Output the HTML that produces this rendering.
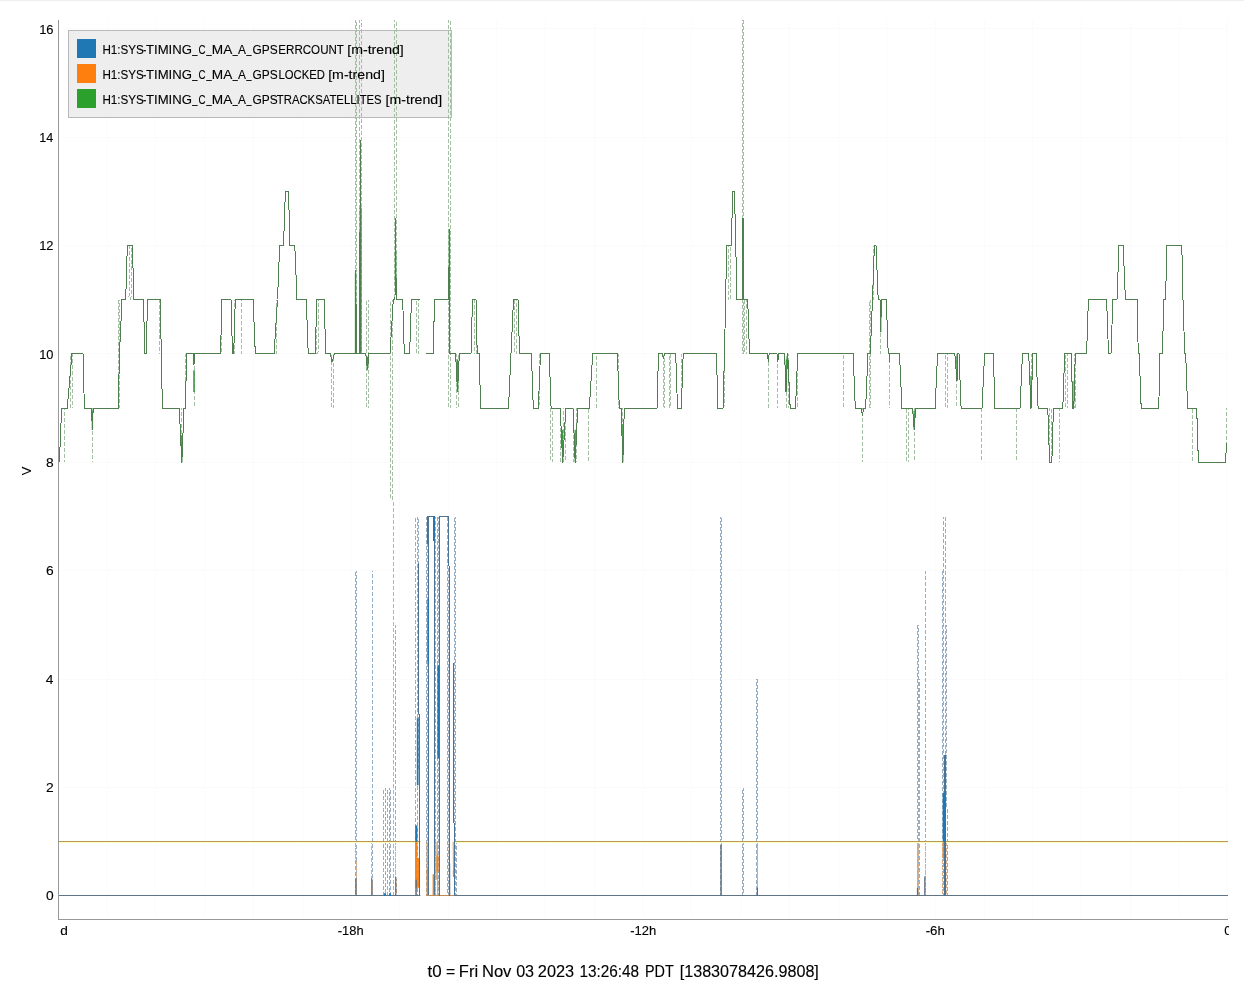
<!DOCTYPE html>
<html lang="en">
<head>
<meta charset="utf-8">
<title>ndscope</title>
<style>
html,body{margin:0;padding:0;background:#fff;}
body{width:1244px;height:990px;overflow:hidden;font-family:"Liberation Sans",sans-serif;}
svg{display:block;position:absolute;left:0;top:0;}
text{font-family:"Liberation Sans",sans-serif;fill:#000;stroke:#000;stroke-width:0.12px;}
.tick{font-size:13px;}
.leg{font-size:13px;}
.title{font-size:16px;}
.gm{fill:none;stroke:#4f7f4f;stroke-width:1;stroke-linejoin:miter;shape-rendering:crispEdges;}
.gd{shape-rendering:crispEdges;fill:none;stroke:#a4bfa4;stroke-width:1;stroke-dasharray:4 2;}
.bd{shape-rendering:crispEdges;fill:none;stroke:#97adc4;stroke-width:1;stroke-dasharray:4 2;}
.bs{fill:none;stroke:#4a7396;stroke-width:1;shape-rendering:crispEdges;}
.bt{fill:none;stroke:#1f77b4;}
.dk{fill:none;stroke:#5b6b78;stroke-width:1.2;}
.od{shape-rendering:crispEdges;fill:none;stroke:#dcae85;stroke-width:1;stroke-dasharray:4 2;}
.ot{fill:none;stroke:#f5821a;}
.os{fill:none;stroke:#cf9a58;stroke-width:1;}
.grid line{stroke:#fbfbfb;stroke-width:1;}
.ax{stroke:#999;stroke-width:1;fill:none;shape-rendering:crispEdges;}
</style>
</head>
<body>
<svg width="1244" height="990" viewBox="0 0 1244 990">
<defs>
<clipPath id="plot"><rect x="59" y="20" width="1169" height="899"/></clipPath>
<clipPath id="xl"><rect x="0" y="919" width="1229" height="40"/></clipPath>
</defs>
<rect x="0" y="0" width="1244" height="990" fill="#ffffff"/>
<rect x="0" y="0" width="1244" height="1" fill="#efeded"/>

<g class="grid" clip-path="url(#plot)">
<line x1="59" y1="895.5" x2="1228" y2="895.5"/>
<line x1="59" y1="787.5" x2="1228" y2="787.5"/>
<line x1="59" y1="679.5" x2="1228" y2="679.5"/>
<line x1="59" y1="570.5" x2="1228" y2="570.5"/>
<line x1="59" y1="462.5" x2="1228" y2="462.5"/>
<line x1="59" y1="353.5" x2="1228" y2="353.5"/>
<line x1="59" y1="245.5" x2="1228" y2="245.5"/>
<line x1="59" y1="137.5" x2="1228" y2="137.5"/>
<line x1="59" y1="28.5" x2="1228" y2="28.5"/>
<line x1="58.5" y1="20" x2="58.5" y2="919"/>
<line x1="107.5" y1="20" x2="107.5" y2="919"/>
<line x1="155.5" y1="20" x2="155.5" y2="919"/>
<line x1="204.5" y1="20" x2="204.5" y2="919"/>
<line x1="253.5" y1="20" x2="253.5" y2="919"/>
<line x1="302.5" y1="20" x2="302.5" y2="919"/>
<line x1="350.5" y1="20" x2="350.5" y2="919"/>
<line x1="399.5" y1="20" x2="399.5" y2="919"/>
<line x1="448.5" y1="20" x2="448.5" y2="919"/>
<line x1="496.5" y1="20" x2="496.5" y2="919"/>
<line x1="545.5" y1="20" x2="545.5" y2="919"/>
<line x1="594.5" y1="20" x2="594.5" y2="919"/>
<line x1="643.5" y1="20" x2="643.5" y2="919"/>
<line x1="691.5" y1="20" x2="691.5" y2="919"/>
<line x1="740.5" y1="20" x2="740.5" y2="919"/>
<line x1="789.5" y1="20" x2="789.5" y2="919"/>
<line x1="838.5" y1="20" x2="838.5" y2="919"/>
<line x1="886.5" y1="20" x2="886.5" y2="919"/>
<line x1="935.5" y1="20" x2="935.5" y2="919"/>
<line x1="984.5" y1="20" x2="984.5" y2="919"/>
<line x1="1032.5" y1="20" x2="1032.5" y2="919"/>
<line x1="1081.5" y1="20" x2="1081.5" y2="919"/>
<line x1="1130.5" y1="20" x2="1130.5" y2="919"/>
<line x1="1179.5" y1="20" x2="1179.5" y2="919"/>
<line x1="1227.5" y1="20" x2="1227.5" y2="919"/>
</g>
<rect x="68.5" y="30.5" width="383" height="87" fill="#eeeeee" stroke="#b9b9b9" stroke-width="1"/>
<rect x="77" y="39" width="19" height="19" fill="#1f77b4"/>
<rect x="77" y="64" width="19" height="19" fill="#ff7f0e"/>
<rect x="77" y="89" width="19" height="19" fill="#2ca02c"/>
<g clip-path="url(#plot)">
<line class="gd" stroke-dashoffset="1.6" x1="64.5" y1="462.35" x2="64.8" y2="408.15"/>
<line class="gd" stroke-dashoffset="5.8" x1="70.5" y1="408.15" x2="70.8" y2="353.95"/>
<line class="gd" stroke-dashoffset="3.2" x1="72.5" y1="408.15" x2="72.8" y2="353.95"/>
<line class="gd" stroke-dashoffset="0.9" x1="92.3" y1="408.15" x2="92.6" y2="462.35"/>
<line class="gd" stroke-dashoffset="4.3" x1="118.5" y1="408.15" x2="118.5" y2="299.75"/>
<line class="gd" stroke-dashoffset="1.3" x1="119.5" y1="408.15" x2="119.5" y2="299.75"/>
<line class="gd" stroke-dashoffset="3.3" x1="129" y1="299.75" x2="129.3" y2="245.55"/>
<line class="gd" stroke-dashoffset="0.7" x1="131" y1="299.75" x2="131.3" y2="245.55"/>
<line class="gd" stroke-dashoffset="1.1" x1="159.5" y1="299.75" x2="159.8" y2="353.95"/>
<line class="gd" stroke-dashoffset="2.6" x1="181.5" y1="408.15" x2="181.8" y2="462.35"/>
<line class="gd" stroke-dashoffset="2.8" x1="185.2" y1="408.15" x2="185.5" y2="353.95"/>
<line class="gd" stroke-dashoffset="5.8" x1="194" y1="353.95" x2="194.3" y2="408.15"/>
<line class="gd" stroke-dashoffset="4.0" x1="221.2" y1="353.95" x2="221.5" y2="299.75"/>
<line class="gd" stroke-dashoffset="3.0" x1="234.7" y1="299.75" x2="235.0" y2="353.95"/>
<line class="gd" stroke-dashoffset="2.6" x1="241.5" y1="299.75" x2="241.8" y2="353.95"/>
<line class="gd" stroke-dashoffset="1.2" x1="276" y1="353.95" x2="276.3" y2="299.75"/>
<line class="gd" stroke-dashoffset="3.2" x1="316" y1="353.95" x2="316.3" y2="299.75"/>
<line class="gd" stroke-dashoffset="0.6" x1="318" y1="353.95" x2="318.3" y2="299.75"/>
<line class="gd" stroke-dashoffset="4.7" x1="331" y1="353.95" x2="331.3" y2="408.15"/>
<line class="gd" stroke-dashoffset="2.9" x1="333.5" y1="353.95" x2="333.8" y2="408.15"/>
<line class="gd" stroke-dashoffset="4.9" x1="355.3" y1="353.95" x2="355.3" y2="7.07"/>
<line class="gd" stroke-dashoffset="1.9" x1="356.3" y1="353.95" x2="356.3" y2="7.07"/>
<line class="gd" stroke-dashoffset="5.0" x1="359.4" y1="353.95" x2="359.7" y2="7.07"/>
<line class="gd" stroke-dashoffset="2.7" x1="361.6" y1="353.95" x2="361.90000000000003" y2="7.07"/>
<line class="gd" stroke-dashoffset="5.0" x1="366.5" y1="299.75" x2="366.8" y2="408.15"/>
<line class="gd" stroke-dashoffset="1.6" x1="368" y1="299.75" x2="368.3" y2="408.15"/>
<line class="gd" stroke-dashoffset="3.7" x1="390.4" y1="299.75" x2="390.7" y2="500.29"/>
<line class="gd" stroke-dashoffset="1.9" x1="392.9" y1="299.75" x2="393.2" y2="895.95"/>
<line class="gd" stroke-dashoffset="4.3" x1="394.3" y1="299.75" x2="394.6" y2="7.07"/>
<line class="gd" stroke-dashoffset="1.9" x1="396.4" y1="299.75" x2="396.7" y2="7.07"/>
<line class="gd" stroke-dashoffset="5.2" x1="416" y1="299.75" x2="416.3" y2="353.95"/>
<line class="gd" stroke-dashoffset="2.6" x1="418" y1="299.75" x2="418.3" y2="353.95"/>
<line class="gd" stroke-dashoffset="0.4" x1="448.5" y1="7.07" x2="448.8" y2="408.15"/>
<line class="gd" stroke-dashoffset="3.9" x1="450.5" y1="7.07" x2="450.8" y2="408.15"/>
<line class="gd" stroke-dashoffset="1.2" x1="456" y1="353.95" x2="456.3" y2="408.15"/>
<line class="gd" stroke-dashoffset="5.4" x1="458.5" y1="353.95" x2="458.8" y2="408.15"/>
<line class="gd" stroke-dashoffset="2.6" x1="474.5" y1="353.95" x2="474.8" y2="299.75"/>
<line class="gd" stroke-dashoffset="0.0" x1="476.5" y1="353.95" x2="476.8" y2="299.75"/>
<line class="gd" stroke-dashoffset="4.1" x1="514.2" y1="353.95" x2="514.5" y2="299.75"/>
<line class="gd" stroke-dashoffset="1.2" x1="516" y1="353.95" x2="516.3" y2="299.75"/>
<line class="gd" stroke-dashoffset="4.3" x1="539" y1="408.15" x2="539.3" y2="353.95"/>
<line class="gd" stroke-dashoffset="5.9" x1="550.5" y1="408.15" x2="550.8" y2="462.35"/>
<line class="gd" stroke-dashoffset="3.2" x1="552.5" y1="408.15" x2="552.8" y2="462.35"/>
<line class="gd" stroke-dashoffset="4.0" x1="560" y1="408.15" x2="560.3" y2="462.35"/>
<line class="gd" stroke-dashoffset="3.1" x1="563" y1="408.15" x2="563.3" y2="462.35"/>
<line class="gd" stroke-dashoffset="0.5" x1="565" y1="408.15" x2="565.3" y2="462.35"/>
<line class="gd" stroke-dashoffset="2.9" x1="573.5" y1="408.15" x2="573.8" y2="462.35"/>
<line class="gd" stroke-dashoffset="1.2" x1="576" y1="408.15" x2="576.3" y2="462.35"/>
<line class="gd" stroke-dashoffset="4.8" x1="588.7" y1="408.15" x2="589.0" y2="462.35"/>
<line class="gd" stroke-dashoffset="0.0" x1="596.5" y1="408.15" x2="596.8" y2="353.95"/>
<line class="gd" stroke-dashoffset="0.6" x1="618" y1="353.95" x2="618.3" y2="408.15"/>
<line class="gd" stroke-dashoffset="2.2" x1="622.5" y1="408.15" x2="622.8" y2="462.35"/>
<line class="gd" stroke-dashoffset="5.1" x1="663" y1="353.95" x2="663.3" y2="408.15"/>
<line class="gd" stroke-dashoffset="1.6" x1="664.5" y1="353.95" x2="664.8" y2="408.15"/>
<line class="gd" stroke-dashoffset="4.1" x1="669.5" y1="353.95" x2="669.8" y2="408.15"/>
<line class="gd" stroke-dashoffset="5.8" x1="670.5" y1="353.95" x2="670.8" y2="408.15"/>
<line class="gd" stroke-dashoffset="0.5" x1="681.5" y1="353.95" x2="681.8" y2="408.15"/>
<line class="gd" stroke-dashoffset="0.8" x1="724" y1="408.15" x2="724.3" y2="353.95"/>
<line class="gd" stroke-dashoffset="2.5" x1="728.5" y1="245.55" x2="728.8" y2="299.75"/>
<line class="gd" stroke-dashoffset="5.0" x1="730" y1="245.55" x2="730.3" y2="299.75"/>
<line class="gd" stroke-dashoffset="3.1" x1="742.5" y1="353.95" x2="742.5" y2="7.07"/>
<line class="gd" stroke-dashoffset="0.1" x1="743.5" y1="353.95" x2="743.5" y2="7.07"/>
<line class="gd" stroke-dashoffset="5.6" x1="744.5" y1="299.75" x2="744.8" y2="353.95"/>
<line class="gd" stroke-dashoffset="2.2" x1="746" y1="299.75" x2="746.3" y2="353.95"/>
<line class="gd" stroke-dashoffset="4.1" x1="768.3" y1="353.95" x2="768.5999999999999" y2="408.15"/>
<line class="gd" stroke-dashoffset="2.1" x1="777.7" y1="353.95" x2="778.0" y2="408.15"/>
<line class="gd" stroke-dashoffset="4.2" x1="786" y1="353.95" x2="786.3" y2="408.15"/>
<line class="gd" stroke-dashoffset="1.6" x1="788" y1="353.95" x2="788.3" y2="408.15"/>
<line class="gd" stroke-dashoffset="4.9" x1="797" y1="353.95" x2="797.3" y2="408.15"/>
<line class="gd" stroke-dashoffset="5.1" x1="843" y1="353.95" x2="843.3" y2="408.15"/>
<line class="gd" stroke-dashoffset="2.2" x1="862.5" y1="408.15" x2="862.8" y2="462.35"/>
<line class="gd" stroke-dashoffset="3.3" x1="869.7" y1="299.75" x2="869.7" y2="408.15"/>
<line class="gd" stroke-dashoffset="0.3" x1="870.7" y1="299.75" x2="870.7" y2="408.15"/>
<line class="gd" stroke-dashoffset="2.1" x1="873" y1="245.55" x2="873.3" y2="299.75"/>
<line class="gd" stroke-dashoffset="3.2" x1="880.7" y1="299.75" x2="881.0" y2="353.95"/>
<line class="gd" stroke-dashoffset="0.5" x1="889.7" y1="353.95" x2="890.0" y2="408.15"/>
<line class="gd" stroke-dashoffset="5.0" x1="906.5" y1="408.15" x2="906.8" y2="462.35"/>
<line class="gd" stroke-dashoffset="2.5" x1="908.5" y1="408.15" x2="908.8" y2="462.35"/>
<line class="gd" stroke-dashoffset="5.8" x1="914" y1="408.15" x2="914.3" y2="462.35"/>
<line class="gd" stroke-dashoffset="5.3" x1="945.5" y1="353.95" x2="945.8" y2="408.15"/>
<line class="gd" stroke-dashoffset="2.8" x1="947.5" y1="353.95" x2="947.8" y2="408.15"/>
<line class="gd" stroke-dashoffset="5.9" x1="956.4" y1="353.95" x2="956.6999999999999" y2="408.15"/>
<line class="gd" stroke-dashoffset="0.5" x1="981.5" y1="408.15" x2="981.8" y2="462.35"/>
<line class="gd" stroke-dashoffset="0.0" x1="1016.5" y1="408.15" x2="1016.8" y2="462.35"/>
<line class="gd" stroke-dashoffset="0.7" x1="1031" y1="353.95" x2="1031.3" y2="408.15"/>
<line class="gd" stroke-dashoffset="1.3" x1="1049" y1="408.15" x2="1049.3" y2="462.35"/>
<line class="gd" stroke-dashoffset="5.5" x1="1051.5" y1="408.15" x2="1051.8" y2="462.35"/>
<line class="gd" stroke-dashoffset="1.3" x1="1059.6" y1="408.15" x2="1059.8999999999999" y2="462.35"/>
<line class="gd" stroke-dashoffset="5.3" x1="1065.5" y1="353.95" x2="1065.8" y2="408.15"/>
<line class="gd" stroke-dashoffset="1.9" x1="1067" y1="353.95" x2="1067.3" y2="408.15"/>
<line class="gd" stroke-dashoffset="1.8" x1="1074" y1="353.95" x2="1074.3" y2="408.15"/>
<line class="gd" stroke-dashoffset="4.3" x1="1075.5" y1="353.95" x2="1075.8" y2="408.15"/>
<line class="gd" stroke-dashoffset="5.6" x1="1192.7" y1="408.15" x2="1193.0" y2="462.35"/>
<line class="gd" stroke-dashoffset="2.2" x1="1226" y1="408.15" x2="1226.3" y2="446.09"/>
<line class="bd" stroke-dashoffset="4.7" x1="355.2" y1="570.75" x2="355.2" y2="895.95"/>
<line class="bd" stroke-dashoffset="1.7" x1="356.2" y1="570.75" x2="356.2" y2="895.95"/>
<line class="bd" stroke-dashoffset="2.7" x1="372.2" y1="570.75" x2="372.5" y2="895.95"/>
<line class="bd" stroke-dashoffset="3.9" x1="383.5" y1="787.55" x2="383.8" y2="895.95"/>
<line class="bd" stroke-dashoffset="0.5" x1="385" y1="787.55" x2="385.3" y2="895.95"/>
<line class="bd" stroke-dashoffset="3.9" x1="387" y1="787.55" x2="387.3" y2="895.95"/>
<line class="bd" stroke-dashoffset="1.3" x1="389" y1="787.55" x2="389.3" y2="895.95"/>
<line class="bd" stroke-dashoffset="3.9" x1="390.5" y1="787.55" x2="390.8" y2="895.95"/>
<line class="bd" stroke-dashoffset="0.5" x1="395.6" y1="624.95" x2="395.90000000000003" y2="895.95"/>
<line class="bd" stroke-dashoffset="4.4" x1="415.5" y1="516.55" x2="415.8" y2="895.95"/>
<line class="bd" stroke-dashoffset="0.9" x1="417" y1="516.55" x2="417.3" y2="895.95"/>
<line class="bd" stroke-dashoffset="4.0" x1="418.8" y1="516.55" x2="419.1" y2="895.95"/>
<line class="bd" stroke-dashoffset="0.2" x1="426.7" y1="516.55" x2="426.7" y2="895.95"/>
<line class="bd" stroke-dashoffset="3.2" x1="427.7" y1="516.55" x2="427.7" y2="895.95"/>
<line class="bd" stroke-dashoffset="2.0" x1="435.3" y1="516.55" x2="435.6" y2="895.95"/>
<line class="bd" stroke-dashoffset="5.8" x1="437.5" y1="516.55" x2="437.8" y2="895.95"/>
<line class="bd" stroke-dashoffset="1.6" x1="438.6" y1="516.55" x2="438.90000000000003" y2="895.95"/>
<line class="bd" stroke-dashoffset="5.3" x1="447.3" y1="516.55" x2="447.3" y2="895.95"/>
<line class="bd" stroke-dashoffset="2.3" x1="448.3" y1="516.55" x2="448.3" y2="895.95"/>
<line class="bd" stroke-dashoffset="4.6" x1="454.0" y1="516.55" x2="454.0" y2="895.95"/>
<line class="bd" stroke-dashoffset="1.6" x1="455.0" y1="516.55" x2="455.0" y2="895.95"/>
<line class="bd" stroke-dashoffset="2.2" x1="456.6" y1="841.75" x2="456.90000000000003" y2="895.95"/>
<line class="bd" stroke-dashoffset="1.7" x1="720.5" y1="516.55" x2="720.5" y2="895.95"/>
<line class="bd" stroke-dashoffset="4.7" x1="721.5" y1="516.55" x2="721.5" y2="895.95"/>
<line class="bd" stroke-dashoffset="3.4" x1="742.7" y1="787.55" x2="742.7" y2="895.95"/>
<line class="bd" stroke-dashoffset="0.4" x1="743.7" y1="787.55" x2="743.7" y2="895.95"/>
<line class="bd" stroke-dashoffset="3.6" x1="756.9" y1="679.15" x2="756.9" y2="895.95"/>
<line class="bd" stroke-dashoffset="0.6" x1="757.9" y1="679.15" x2="757.9" y2="895.95"/>
<line class="bd" stroke-dashoffset="5.8" x1="917.0" y1="624.95" x2="917.0" y2="895.95"/>
<line class="bd" stroke-dashoffset="2.8" x1="918.0" y1="624.95" x2="918.0" y2="895.95"/>
<line class="bd" stroke-dashoffset="3.1" x1="919.5" y1="679.15" x2="919.8" y2="895.95"/>
<line class="bd" stroke-dashoffset="0.8" x1="925.2" y1="570.75" x2="925.5" y2="895.95"/>
<line class="bd" stroke-dashoffset="0.1" x1="942.4" y1="570.75" x2="942.6999999999999" y2="895.95"/>
<line class="bd" stroke-dashoffset="1.8" x1="943.4" y1="516.55" x2="943.6999999999999" y2="895.95"/>
<line class="bd" stroke-dashoffset="5.5" x1="945.6" y1="516.55" x2="945.9" y2="895.95"/>
<line class="bd" stroke-dashoffset="1.6" x1="946.8" y1="624.95" x2="947.0999999999999" y2="895.95"/>
<line class="od" stroke-dashoffset="5.0" x1="355.9" y1="841.75" x2="356.2" y2="895.95"/>
<line class="od" stroke-dashoffset="2.1" x1="371.8" y1="841.75" x2="372.1" y2="895.95"/>
<line class="od" stroke-dashoffset="0.9" x1="395.8" y1="841.75" x2="396.1" y2="895.95"/>
<line class="od" stroke-dashoffset="3.5" x1="415" y1="841.75" x2="415.3" y2="895.95"/>
<line class="od" stroke-dashoffset="1.7" x1="721" y1="841.75" x2="721.3" y2="895.95"/>
<line class="od" stroke-dashoffset="3.6" x1="757.4" y1="841.75" x2="757.6999999999999" y2="895.95"/>
<line class="od" stroke-dashoffset="4.9" x1="917" y1="841.75" x2="917.3" y2="895.95"/>
<line class="od" stroke-dashoffset="1.5" x1="918.5" y1="841.75" x2="918.8" y2="895.95"/>
<line class="od" stroke-dashoffset="0.5" x1="925" y1="841.75" x2="925.3" y2="895.95"/>
<line class="od" stroke-dashoffset="0.2" x1="942.5" y1="841.75" x2="942.8" y2="895.95"/>
<line class="od" stroke-dashoffset="0.2" x1="946" y1="841.75" x2="946.3" y2="895.95"/>
<line class="od" stroke-dashoffset="4.9" x1="437" y1="841.75" x2="437.3" y2="895.95"/>
<line class="od" stroke-dashoffset="1.5" x1="435" y1="841.75" x2="435.3" y2="895.95"/>
<rect x="59" y="842.0" width="361.5" height="1" fill="#ffffc4"/>
<rect x="455" y="842.0" width="773" height="1" fill="#ffffc4"/>
<line x1="59" y1="841.5" x2="420.5" y2="841.5" stroke="#b79a4e" stroke-width="1"/>
<line x1="455" y1="841.5" x2="1228" y2="841.5" stroke="#b79a4e" stroke-width="1"/>
<line class="os" x1="427" y1="841.75" x2="427.3" y2="895.95"/>
<line class="os" x1="434.5" y1="841.75" x2="434.8" y2="895.95"/>
<line class="os" x1="439" y1="879.69" x2="439.3" y2="895.95"/>
<line class="os" x1="449.3" y1="841.75" x2="449.6" y2="895.95"/>
<line class="os" x1="453.2" y1="841.75" x2="453.5" y2="874.27"/>
<line class="os" x1="436" y1="841.75" x2="436.3" y2="879.69"/>
<line class="ot" stroke-width="2.4" x1="416.3" y1="841.75" x2="416.3" y2="887.82"/>
<line class="ot" stroke-width="1.8" x1="418.2" y1="858.01" x2="418.2" y2="887.82"/>
<line class="ot" stroke-width="1.8" x1="427.6" y1="868.85" x2="427.6" y2="895.95"/>
<line class="ot" stroke-width="1.8" x1="433.5" y1="874.27" x2="433.5" y2="895.95"/>
<line class="ot" stroke-width="2" x1="437.6" y1="855.3" x2="437.6" y2="871.56"/>
<line class="ot" stroke-width="1.6" x1="453.7" y1="870.48" x2="453.7" y2="876.98"/>
<line class="ot" stroke-width="2.6" x1="944" y1="841.75" x2="944" y2="858.01"/>
<line x1="59" y1="895.5" x2="420.3" y2="895.5" stroke="#5f7585" stroke-width="1"/>
<line x1="455" y1="895.5" x2="1228" y2="895.5" stroke="#5f7585" stroke-width="1"/>
<line x1="426.5" y1="895.5" x2="455" y2="895.5" stroke="#c08a55" stroke-width="1"/>
<polyline class="bs" points="428.2,895.5 428,516.5 434.3,516.5 434.5,895.5"/>
<polyline class="bs" points="439.3,895.5 439.3,516.5 448.9,516.5 448.9,565.33 449.5,568.04 449.5,895.5"/>
<line class="bs" x1="418.6" y1="562.62" x2="419.5" y2="895.95"/>
<line class="bs" x1="453.8" y1="662.89" x2="454.1" y2="895.95"/>
<line class="bs" x1="944" y1="755.03" x2="944.3" y2="895.95"/>
<line class="bs" x1="945.6" y1="755.03" x2="945.9" y2="895.95"/>
<line class="bt" stroke-width="2.2" x1="416.3" y1="825.49" x2="416.3" y2="841.75"/>
<line class="bt" stroke-width="1.8" x1="417.7" y1="718.22" x2="417.7" y2="785.31"/>
<line class="bt" stroke-width="1.6" x1="428.2" y1="599.07" x2="428.2" y2="663.15"/>
<line class="bt" stroke-width="1.8" x1="433.9" y1="516.55" x2="433.9" y2="540.99"/>
<line class="bt" stroke-width="1.8" x1="438.3" y1="665.15" x2="438.3" y2="758.27"/>
<line class="bt" stroke-width="2.6" x1="944" y1="792.97" x2="944" y2="841.75"/>
<line class="bt" stroke-width="2" x1="385" y1="893.24" x2="385" y2="895.95"/>
<line class="bt" stroke-width="2" x1="390" y1="893.24" x2="390" y2="895.95"/>
<line class="dk" x1="355.9" y1="878.61" x2="355.9" y2="895.5"/>
<line class="dk" x1="371.8" y1="878.61" x2="371.8" y2="895.5"/>
<line class="dk" x1="395.8" y1="876.98" x2="395.8" y2="895.5"/>
<line class="dk" x1="721" y1="844.46" x2="721" y2="895.5"/>
<line class="dk" x1="757.4" y1="887.82" x2="757.4" y2="895.5"/>
<line class="dk" x1="917.5" y1="887.82" x2="917.5" y2="895.5"/>
<line class="dk" x1="924.8" y1="876.44" x2="924.8" y2="895.5"/>
<line class="dk" x1="416.2" y1="879.69" x2="416.2" y2="895.5"/>
<line class="dk" x1="449.6" y1="863.43" x2="449.6" y2="895.5"/>
<line stroke="#3c9a45" stroke-width="1.5" x1="355.6" y1="272.65" x2="355.6" y2="353.95"/>
<line stroke="#3c9a45" stroke-width="2" x1="360.6" y1="207.61" x2="360.6" y2="353.95"/>
<line stroke="#3c9a45" stroke-width="1.6" x1="395.6" y1="250.97" x2="395.6" y2="283.49"/>
<line stroke="#3c9a45" stroke-width="1.5" x1="743.2" y1="218.45" x2="743.2" y2="299.75"/>
<line stroke="#3c9a45" stroke-width="1.4" x1="449.4" y1="229.29" x2="449.4" y2="299.75"/>
<line stroke="#3c9a45" stroke-width="1.5" x1="457.6" y1="359.37" x2="457.6" y2="391.89"/>
<line stroke="#3c9a45" stroke-width="1.5" x1="786.4" y1="359.37" x2="786.4" y2="391.89"/>
<line stroke="#3c9a45" stroke-width="1.6" x1="194" y1="370.21" x2="194" y2="391.89"/>
<line stroke="#3c9a45" stroke-width="1.4" x1="92.4" y1="410.86" x2="92.4" y2="429.83"/>
<line stroke="#3c9a45" stroke-width="1.4" x1="181.8" y1="435.25" x2="181.8" y2="462.35"/>
<line stroke="#3c9a45" stroke-width="1.4" x1="914.2" y1="410.86" x2="914.2" y2="429.83"/>
<line stroke="#3c9a45" stroke-width="1.4" x1="562.6" y1="429.83" x2="562.6" y2="462.35"/>
<line stroke="#3c9a45" stroke-width="1.4" x1="575.2" y1="429.83" x2="575.2" y2="462.35"/>
<line stroke="#3c9a45" stroke-width="1.3" x1="622.8" y1="424.41" x2="622.8" y2="462.35"/>
<line stroke="#3c9a45" stroke-width="1.4" x1="880.7" y1="302.46" x2="880.7" y2="332.27"/>
<line stroke="#3c9a45" stroke-width="1.4" x1="957" y1="356.66" x2="957" y2="381.05"/>
<line stroke="#3c9a45" stroke-width="1.4" x1="1031" y1="375.63" x2="1031" y2="408.15"/>
<line stroke="#3c9a45" stroke-width="1.4" x1="1072.9" y1="381.05" x2="1072.9" y2="408.15"/>
<line stroke="#3c9a45" stroke-width="1.4" x1="367.4" y1="356.66" x2="367.4" y2="370.21"/>
<polyline class="gm" points="59.4,462.5 61.6,408.5 67.2,408.5 72,353.5 83,353.5 84.4,408.5 91.6,408.5 92.3,429.83 93.2,408.5 118.2,408.5 119.5,353.5 122,299.5 125.7,299.5 127.3,245.5 132.3,245.5 134,299.5 143.3,299.5 145,353.5 146.1,353.5 147.6,299.5 160.2,299.5 161.3,353.5 162.4,408.5 179.3,408.5 181.8,462.5 184,408.5 185.2,408.5 186.8,353.5 193.3,353.5 194,364.79 194.6,353.5 220.6,353.5 221.8,299.5 231,299.5 232.5,353.5 233.7,353.5 235.3,299.5 253.1,299.5 255.3,353.5 274.1,353.5 277.5,299.5 279.7,245.5 283.5,245.5 285.4,191.5 288.5,191.5 290,245.5 294.8,245.5 297,299.5 306.3,299.5 308.2,353.5 315.1,353.5 317,299.5 324.2,299.5 325.7,353.5 330.4,353.5 332,362.08 334.5,353.5 355.2,353.5 355.8,269.94 356.3,353.5 359.8,353.5 360.2,139.86 360.7,353.5 365.8,353.5 367.4,370.21 369,353.5 390,353.5 393.3,299.5 395,299.5 395.5,218.45 396.2,299.5 402.7,299.5 404.3,353.5 409.6,353.5 411.5,299.5 420,299.5"/>
<polyline class="gm" points="426,353.5 433,353.5 434.7,299.5 448.7,299.5 449.4,229.29 449.9,353.5 455.6,353.5 457.5,391.89 459.4,353.5 471,353.5 472.5,299.5 476,299.5 477.2,353.5 479.1,353.5 480.7,408.5 508.5,408.5 511,353.5 513.5,299.5 518,299.5 519.5,353.5 531.4,353.5 533.3,408.5 538.3,408.5 540.5,353.5 549.2,353.5 551.1,408.5 560.2,408.5 562.7,462.5 565.8,408.5 573,408.5 575.2,462.5 577.7,408.5 589.3,408.5 592.7,353.5 617.4,353.5 619.3,408.5 621.2,408.5 622.8,462.5 624.3,408.5 657,408.5 658.5,353.5 662.5,353.5 663.5,359.37 664.5,353.5 675.7,353.5 677.5,408.5 681.3,408.5 683.2,353.5 716.4,353.5 718,408.5 723,408.5 724.5,353.5 726.7,245.5 731.4,245.5 732.6,191.5 734.5,191.5 737,299.5 742.3,299.5 743,218.45 743.8,299.5 747.7,299.5 749.5,353.5 767.4,353.5 768.3,362.08 769.2,353.5 777,353.5 777.8,362.08 778.5,353.5 784.6,353.5 786,391.89 787.7,353.5 790.2,408.5 795.5,408.5 797.7,353.5 853.1,353.5 855.3,408.5 861.5,408.5 862.5,416.28 863.5,408.5 865.6,408.5 868,353.5 870.3,353.5 872.5,299.5 874.4,245.5 876,245.5 878.2,299.5 880,299.5 880.7,332.27 881.4,299.5 886.3,299.5 888.2,353.5 889,353.5 889.5,362.08 890,353.5 899.5,353.5 902,408.5 912.6,408.5 914.2,429.83 915.7,408.5 935.1,408.5 937.6,353.5 954.8,353.5 957,381.05 958,353.5 959,353.5 961.1,408.5 982,408.5 984.6,353.5 993.3,353.5 995,408.5 1020,408.5 1022.5,353.5 1028.7,353.5 1031,408.5 1033,353.5 1036.2,353.5 1038.1,408.5 1047.8,408.5 1049.6,462.5 1051.8,462.5 1053.4,408.5 1062.8,408.5 1064.7,353.5 1071.2,353.5 1072.8,408.5 1073.8,408.5 1075.3,353.5 1086.6,353.5 1088.4,299.5 1106.6,299.5 1108.5,353.5 1111,353.5 1112.9,299.5 1117,299.5 1119,245.5 1123.2,245.5 1125.4,299.5 1137.3,299.5 1138.2,353.5 1139.2,353.5 1141.2,408.5 1158.8,408.5 1159.8,353.5 1162.6,353.5 1163.6,299.5 1165.5,299.5 1167,245.5 1181.8,245.5 1183,299.5 1184.7,353.5 1185.7,353.5 1187.6,408.5 1196.7,408.5 1198.4,462.5 1225.5,462.5 1226.5,443.38"/>
</g>
<rect x="58" y="20" width="1" height="900" fill="#999999"/>
<rect x="58" y="919" width="1170" height="1" fill="#999999"/>
<text class="leg"><tspan x="102.39" y="53.85" textLength="41.46" lengthAdjust="spacingAndGlyphs">H1:SYS</tspan><tspan x="142.98" y="53.85" textLength="3.31" lengthAdjust="spacingAndGlyphs">-</tspan><tspan x="145.97" y="53.85" textLength="46.01" lengthAdjust="spacingAndGlyphs">TIMING</tspan><tspan x="192.33" y="53.05" textLength="5.14" lengthAdjust="spacingAndGlyphs">_</tspan><tspan x="198.49" y="53.85" textLength="7.03" lengthAdjust="spacingAndGlyphs">C</tspan><tspan x="206.38" y="53.05" textLength="5.09" lengthAdjust="spacingAndGlyphs">_</tspan><tspan x="211.88" y="53.85" textLength="20.47" lengthAdjust="spacingAndGlyphs">MA</tspan><tspan x="232.67" y="53.05" textLength="4.91" lengthAdjust="spacingAndGlyphs">_</tspan><tspan x="238.05" y="53.85" textLength="7.94" lengthAdjust="spacingAndGlyphs">A</tspan><tspan x="246.57" y="53.05" textLength="4.91" lengthAdjust="spacingAndGlyphs">_</tspan><tspan x="252.59" y="53.85" textLength="25.19" lengthAdjust="spacingAndGlyphs">GPS</tspan><tspan x="278.30" y="53.85" textLength="65.43" lengthAdjust="spacingAndGlyphs">ERRCOUNT</tspan> <tspan x="347.27" y="53.85" textLength="56.52" lengthAdjust="spacingAndGlyphs">[m-trend]</tspan></text>
<text class="leg"><tspan x="102.39" y="78.85" textLength="41.46" lengthAdjust="spacingAndGlyphs">H1:SYS</tspan><tspan x="142.98" y="78.85" textLength="3.31" lengthAdjust="spacingAndGlyphs">-</tspan><tspan x="145.97" y="78.85" textLength="46.01" lengthAdjust="spacingAndGlyphs">TIMING</tspan><tspan x="192.33" y="78.05" textLength="5.14" lengthAdjust="spacingAndGlyphs">_</tspan><tspan x="198.49" y="78.85" textLength="7.03" lengthAdjust="spacingAndGlyphs">C</tspan><tspan x="206.38" y="78.05" textLength="5.09" lengthAdjust="spacingAndGlyphs">_</tspan><tspan x="211.88" y="78.85" textLength="20.47" lengthAdjust="spacingAndGlyphs">MA</tspan><tspan x="232.67" y="78.05" textLength="4.91" lengthAdjust="spacingAndGlyphs">_</tspan><tspan x="238.05" y="78.85" textLength="7.94" lengthAdjust="spacingAndGlyphs">A</tspan><tspan x="246.57" y="78.05" textLength="4.91" lengthAdjust="spacingAndGlyphs">_</tspan><tspan x="252.59" y="78.85" textLength="25.19" lengthAdjust="spacingAndGlyphs">GPS</tspan><tspan x="278.53" y="78.85" textLength="46.35" lengthAdjust="spacingAndGlyphs">LOCKED</tspan> <tspan x="328.17" y="78.85" textLength="56.67" lengthAdjust="spacingAndGlyphs">[m-trend]</tspan></text>
<text class="leg"><tspan x="102.39" y="103.85" textLength="41.46" lengthAdjust="spacingAndGlyphs">H1:SYS</tspan><tspan x="142.98" y="103.85" textLength="3.31" lengthAdjust="spacingAndGlyphs">-</tspan><tspan x="145.97" y="103.85" textLength="46.01" lengthAdjust="spacingAndGlyphs">TIMING</tspan><tspan x="192.33" y="103.05" textLength="5.14" lengthAdjust="spacingAndGlyphs">_</tspan><tspan x="198.49" y="103.85" textLength="7.03" lengthAdjust="spacingAndGlyphs">C</tspan><tspan x="206.38" y="103.05" textLength="5.09" lengthAdjust="spacingAndGlyphs">_</tspan><tspan x="211.88" y="103.85" textLength="20.47" lengthAdjust="spacingAndGlyphs">MA</tspan><tspan x="232.67" y="103.05" textLength="4.91" lengthAdjust="spacingAndGlyphs">_</tspan><tspan x="238.05" y="103.85" textLength="7.94" lengthAdjust="spacingAndGlyphs">A</tspan><tspan x="246.57" y="103.05" textLength="4.91" lengthAdjust="spacingAndGlyphs">_</tspan><tspan x="252.59" y="103.85" textLength="25.19" lengthAdjust="spacingAndGlyphs">GPS</tspan><tspan x="276.81" y="103.85" textLength="104.88" lengthAdjust="spacingAndGlyphs">TRACKSATELLITES</tspan> <tspan x="385.57" y="103.85" textLength="56.57" lengthAdjust="spacingAndGlyphs">[m-trend]</tspan></text>
<text class="tick" x="46.04" y="900.05" textLength="7.67" lengthAdjust="spacingAndGlyphs">0</text>
<text class="tick" x="46.14" y="791.79" textLength="7.67" lengthAdjust="spacingAndGlyphs">2</text>
<text class="tick" x="45.89" y="683.53" textLength="7.67" lengthAdjust="spacingAndGlyphs">4</text>
<text class="tick" x="46.13" y="575.27" textLength="7.67" lengthAdjust="spacingAndGlyphs">6</text>
<text class="tick" x="46.10" y="467.01" textLength="7.67" lengthAdjust="spacingAndGlyphs">8</text>
<text class="tick" x="39.16" y="358.75" textLength="14.27" lengthAdjust="spacingAndGlyphs">10</text>
<text class="tick" x="39.15" y="250.49" textLength="14.38" lengthAdjust="spacingAndGlyphs">12</text>
<text class="tick" x="39.17" y="142.23" textLength="13.98" lengthAdjust="spacingAndGlyphs">14</text>
<text class="tick" x="39.15" y="33.97" textLength="14.38" lengthAdjust="spacingAndGlyphs">16</text>
<text class="tick" transform="translate(31,475.3) rotate(-90)">V</text>
<g clip-path="url(#xl)">
<text class="tick" x="60.31" y="935" textLength="7.57" lengthAdjust="spacingAndGlyphs">d</text>
<text class="tick" x="337.77" y="935" textLength="25.86" lengthAdjust="spacingAndGlyphs">-18h</text>
<text class="tick" x="630.26" y="935" textLength="26.07" lengthAdjust="spacingAndGlyphs">-12h</text>
<text class="tick" x="925.66" y="935" textLength="19.12" lengthAdjust="spacingAndGlyphs">-6h</text>
<text class="tick" x="1224.36" y="935" textLength="7.32" lengthAdjust="spacingAndGlyphs">0</text>
</g>
<text class="title"><tspan x="427.47" y="976.80" textLength="14.11" lengthAdjust="spacingAndGlyphs">t0</tspan> <tspan x="445.98" y="976.80" textLength="9.20" lengthAdjust="spacingAndGlyphs">=</tspan> <tspan x="458.82" y="976.80" textLength="19.28" lengthAdjust="spacingAndGlyphs">Fri</tspan> <tspan x="481.92" y="976.80" textLength="29.51" lengthAdjust="spacingAndGlyphs">Nov</tspan> <tspan x="516.15" y="976.80" textLength="17.95" lengthAdjust="spacingAndGlyphs">03</tspan> <tspan x="537.83" y="976.80" textLength="36.33" lengthAdjust="spacingAndGlyphs">2023</tspan> <tspan x="579.39" y="976.80" textLength="59.73" lengthAdjust="spacingAndGlyphs">13:26:48</tspan> <tspan x="645.00" y="976.80" textLength="28.53" lengthAdjust="spacingAndGlyphs">PDT</tspan> <tspan x="679.70" y="976.80" textLength="139.16" lengthAdjust="spacingAndGlyphs">[1383078426.9808]</tspan></text>
</svg>
</body>
</html>
